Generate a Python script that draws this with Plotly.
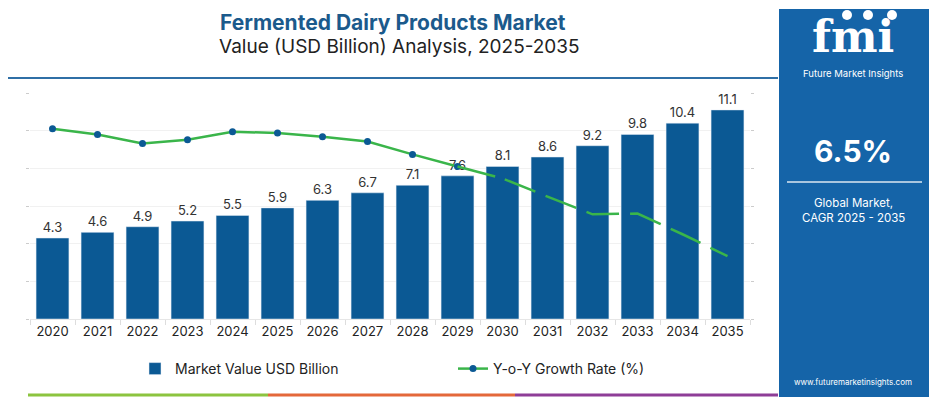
import plotly.graph_objects as go

years = [str(y) for y in range(2020, 2036)]
market_value = [4.3, 4.6, 4.9, 5.2, 5.5, 5.9, 6.3, 6.7, 7.1, 7.6, 8.1, 8.6, 9.2, 9.8, 10.4, 11.1]
yoy_growth = [7.05, 6.90, 6.66, 6.76, 6.97, 6.94, 6.84, 6.71, 6.37, 6.05, 5.73, 5.25, 4.78, 4.80, 4.25, 3.67]
solid_end = 10  # index after 2029

BAR = "#0b5994"
GREEN = "#3ab54a"
PANEL = "#1564a8"
FONT = "Inter"

# screen layout (page body has an 8px margin)
O = 8
SL, SR, ST, SB = 30, 750, 93, 319   # plot area in screen pixels
W, H = 937 - O, 399 - O
L, T = SL - O, ST - O
R, B = W - (SR - O), H - (SB - O)
PW, PH = SR - SL, SB - ST
def px(x):
    return (x - SL) / PW
def py(y):
    return (SB - y) / PH

fig = go.Figure()
fig.add_trace(go.Bar(
    x=years, y=market_value, name="Market Value USD Billion",
    marker=dict(color=BAR), width=0.73,
    text=[f"{v:g}" for v in market_value], textposition="outside",
    textfont=dict(size=13, color="#333333", family=FONT), cliponaxis=False,
))
fig.add_trace(go.Scatter(
    x=years[:solid_end], y=yoy_growth[:solid_end], name="Y-o-Y Growth Rate (%)",
    mode="lines+markers", yaxis="y2",
    line=dict(color=GREEN, width=2.5),
    marker=dict(color=BAR, size=7),
))
fig.add_trace(go.Scatter(
    x=years[solid_end - 1:], y=yoy_growth[solid_end - 1:], showlegend=False,
    mode="lines", yaxis="y2",
    line=dict(color=GREEN, width=2.5,
              dash="39px,10px" + ",33px,11px" * 8),
))

shapes = [
    dict(type="line", xref="paper", yref="paper", x0=px(0), x1=px(778), y0=py(78), y1=py(78),
         line=dict(color="#2f6fa6", width=2)),
    dict(type="line", xref="paper", yref="paper", x0=px(28), x1=px(268), y0=py(395), y1=py(395),
         line=dict(color="#8cc43f", width=3)),
    dict(type="line", xref="paper", yref="paper", x0=px(268), x1=px(515), y0=py(395), y1=py(395),
         line=dict(color="#e4683a", width=3)),
    dict(type="line", xref="paper", yref="paper", x0=px(515), x1=px(778), y0=py(395), y1=py(395),
         line=dict(color="#8e3d97", width=3)),
    dict(type="rect", xref="paper", yref="paper", x0=px(779), x1=px(930), y0=py(9), y1=py(397),
         fillcolor=PANEL, line=dict(width=0), layer="below"),
    dict(type="line", xref="paper", yref="paper", x0=px(787), x1=px(922), y0=py(182), y1=py(182),
         line=dict(color="rgba(255,255,255,0.85)", width=1.5)),
]
for cx in (847, 868, 892):
    shapes.append(dict(type="circle", xref="paper", yref="paper",
                       x0=px(cx - 5), x1=px(cx + 5), y0=py(10), y1=py(20),
                       fillcolor="white", line=dict(width=0)))

def ann(text, x, y, size, color, bold=False, family=FONT, yanchor="middle"):
    return dict(text=f"<b>{text}</b>" if bold else text, x=px(x), y=py(y), xref="paper", yref="paper",
                showarrow=False, xanchor="center", yanchor=yanchor,
                font=dict(size=size, color=color, family=family))

annotations = [
    ann("Fermented Dairy Products Market", 393, 8, 21, "#1b5a8c", bold=True, yanchor="top"),
    ann("Value (USD Billion) Analysis, 2025-2035", 400, 47, 19, "#222222"),
    ann("fmi", 853, 9, 44, "white", bold=True, family="DejaVu Serif", yanchor="top"),
    ann("Future Market Insights", 853, 73, 9.5, "white"),
    ann("6.5%", 853, 151, 30, "white", bold=True),
    ann("Global Market,", 853, 203, 11.5, "white"),
    ann("CAGR 2025 - 2035", 853, 218, 11.5, "white"),
    ann("www.futuremarketinsights.com", 853, 382, 8, "white"),
]

fig.update_layout(
    width=W, height=H,
    margin=dict(l=L, r=R, t=T, b=B, autoexpand=False),
    paper_bgcolor="white", plot_bgcolor="white",
    font=dict(family=FONT, color="#222222"),
    bargap=0.27,
    xaxis=dict(type="category", range=[-0.5, len(years) - 0.5], tickfont=dict(size=13, color="#222222"),
               ticks="outside", tickson="boundaries", ticklen=5, tickcolor="#dddddd",
               showline=True, linecolor="#e6e6e6", showgrid=False),
    yaxis=dict(range=[0, 12], dtick=2, showticklabels=False, ticks="outside", ticklen=3,
               tickcolor="#cccccc", showgrid=True, gridcolor="#f1f1f1", zeroline=False),
    yaxis2=dict(range=[2, 8], dtick=1, overlaying="y", side="right", showticklabels=False,
                ticks="outside", ticklen=3, tickcolor="#cccccc", showgrid=False, zeroline=False),
    legend=dict(orientation="h", x=px(135), xanchor="left", y=py(369), yanchor="middle",
                font=dict(size=14, color="#222222"), entrywidth=273, entrywidthmode="pixels",
                bgcolor="rgba(0,0,0,0)"),
    shapes=shapes, annotations=annotations, showlegend=True,
)

fig.write_html("out.html")
